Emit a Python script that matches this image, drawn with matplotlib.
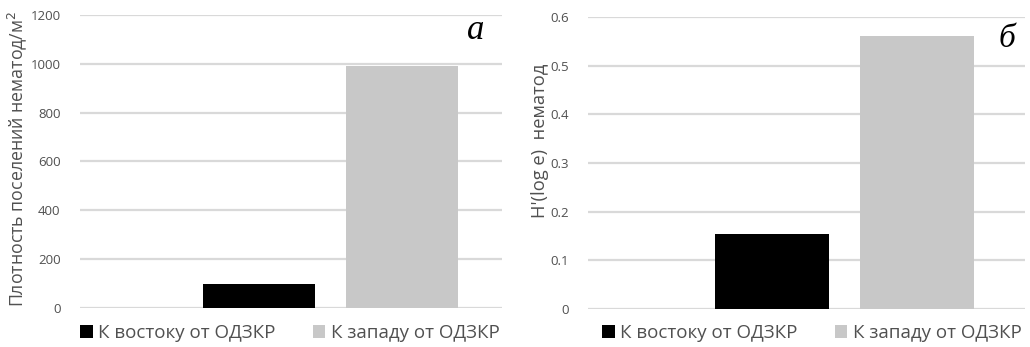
import matplotlib
matplotlib.use("Agg")
import matplotlib.pyplot as plt
from matplotlib.patches import Patch

plt.rcParams['font.family'] = ['Open Sans', 'DejaVu Sans']

series = ["К востоку от ОДЗКР", "К западу от ОДЗКР"]
colors = ["#000000", "#c8c8c8"]
density = [100, 990]
shannon = [0.155, 0.561]
ticks_a = [0, 200, 400, 600, 800, 1000, 1200]
ticks_b = [0, 0.1, 0.2, 0.3, 0.4, 0.5, 0.6]
ticklabels_b = ["0", "0.1", "0.2", "0.3", "0.4", "0.5", "0.6"]
ylabel_a = "Плотность поселений нематод/м$^2$"
ylabel_b = "H'(log e)  нематод"
letters = ["a", "б"]

txt = "#505050"
grid = "#d9d9d9"

fig = plt.figure(figsize=(10.30, 3.47), dpi=100)
ax_a = fig.add_axes([0.0777, 0.1124, 0.4097, 0.8444])
ax_b = fig.add_axes([0.5709, 0.1095, 0.4243, 0.8415])

def style(ax, vals, ticks, ticklabels, ylim, xlim):
    pos = [1, 2]
    ax.bar(pos, vals, width=0.786, color=colors, zorder=3)
    ax.set_xlim(*xlim)
    ax.set_ylim(*ylim)
    ax.set_yticks(ticks)
    ax.set_yticklabels(ticklabels, fontsize=9.5, color=txt)
    ax.set_xticks([])
    for s in ax.spines.values():
        s.set_visible(False)
    ax.tick_params(axis='y', length=0, pad=14)
    ax.grid(axis='y', color=grid, linewidth=1.6, zorder=0)
    ax.set_axisbelow(True)

style(ax_a, density, ticks_a, [str(t) for t in ticks_a], (0, 1200), (-0.256, 2.705))
style(ax_b, shannon, ticks_b, ticklabels_b, (0, 0.6), (-0.269, 2.745))

fig.text(0.017, 1 - 159 / 347, ylabel_a, rotation=90, ha='center', va='center',
         fontsize=12.8, color=txt)
fig.text(540 / 1030, 1 - 141 / 347, ylabel_b, rotation=90, ha='center', va='center',
         fontsize=13.2, color=txt)

fig.text(476 / 1030, 1 - 39 / 347, letters[0], fontsize=25, style='italic',
         family='Liberation Serif', ha='center', va='baseline', color='black')
fig.text(1007 / 1030, 1 - 47 / 347, letters[1], fontsize=24, style='italic',
         family='Liberation Serif', ha='center', va='baseline', color='black')

handles = [Patch(facecolor=c, edgecolor='none', label=s) for c, s in zip(colors, series)]
for xc in (290 / 1030, 812 / 1030):
    fig.legend(handles=handles, loc='center', bbox_to_anchor=(xc, 1 - 333 / 347),
               ncol=2, frameon=False, fontsize=13.5, labelcolor=txt,
               handlelength=0.65, handleheight=0.65, handletextpad=0.3,
               columnspacing=2.0, borderpad=0)

fig.savefig("out.png", dpi=100)
